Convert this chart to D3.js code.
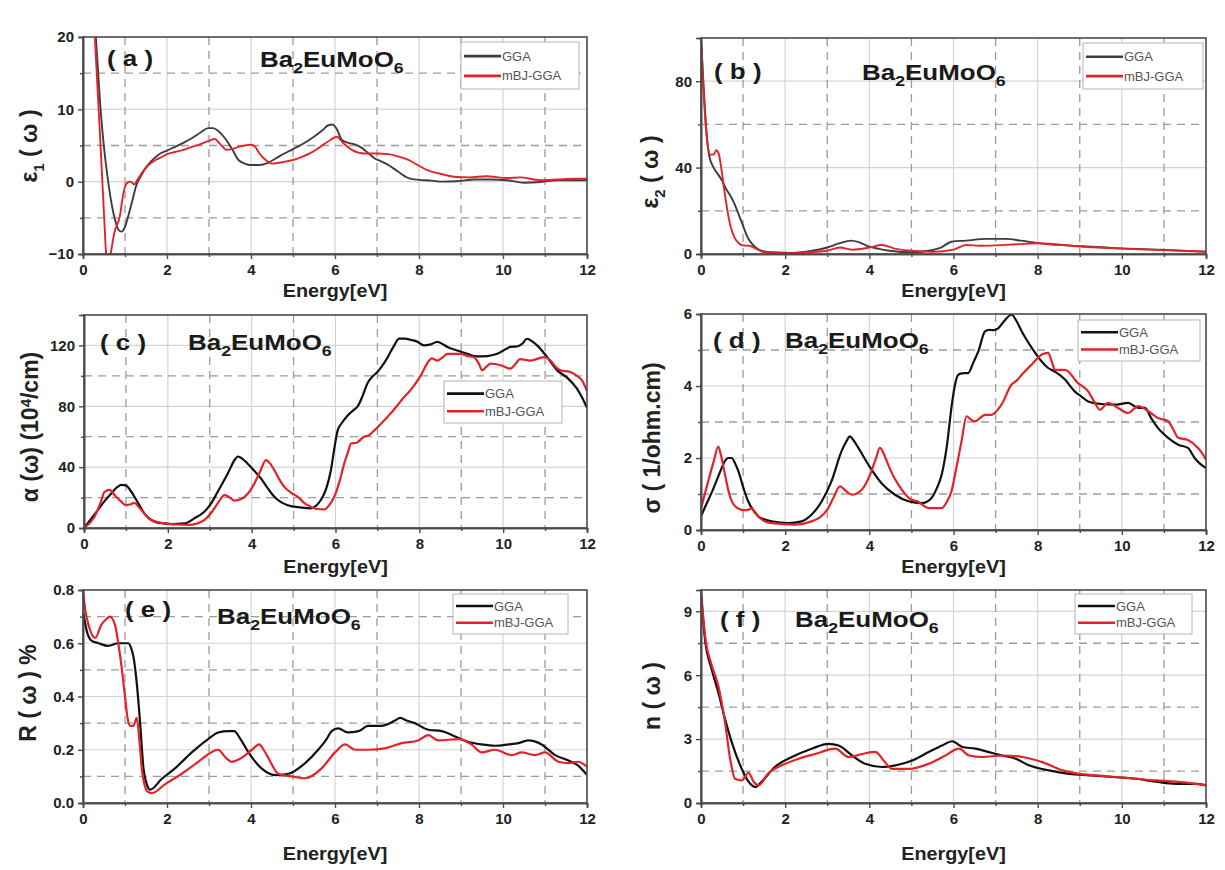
<!DOCTYPE html>
<html><head><meta charset="utf-8">
<script src="https://cdn.jsdelivr.net/npm/d3@7"></script>
<style>
body{margin:0;background:#fff}
svg text{font-family:Arial,"Liberation Sans",Helvetica,sans-serif}
</style></head><body>
<svg id="chart" width="1225" height="870"></svg>
<script>
// ---- shared axis values ----
const energyTicks = [0, 2, 4, 6, 8, 10, 12];
const energyMinor = [1, 3, 5, 7, 9, 11];
const seriesNames = ["GGA", "mBJ-GGA"];
const compound = ["Ba", "2", "EuMoO", "6"];

// ---- (a) real part of the dielectric function, [E (eV), value] ----
const eps1GGA = [[0.26,24],[0.34,17],[0.4,11.5],[0.47,6.5],[0.55,2.2],[0.65,-2],[0.75,-5],[0.85,-6.7],[0.92,-6.9],[0.98,-6.5],[1.08,-4.7],[1.18,-2.5],[1.27,-0.5],[1.38,0.8],[1.48,1.8],[1.62,2.8],[1.79,3.7],[2.0,4.3],[2.19,4.8],[2.4,5.4],[2.59,6.0],[2.8,6.8],[2.98,7.4],[3.1,7.4],[3.22,7.0],[3.38,6.0],[3.55,4.5],[3.7,3.0],[3.85,2.5],[4.0,2.3],[4.2,2.3],[4.4,2.6],[4.7,3.6],[5.0,4.5],[5.2,5.1],[5.5,6.2],[5.7,7.1],[5.84,7.8],[5.94,7.9],[6.04,7.3],[6.16,5.8],[6.3,5.4],[6.5,5.1],[6.63,4.7],[6.8,3.9],[6.95,3.2],[7.1,2.8],[7.27,2.3],[7.5,1.4],[7.75,0.5],[8.0,0.25],[8.3,0.15],[8.54,0.0],[8.9,0.05],[9.33,0.3],[9.7,0.3],[10.1,0.2],[10.5,-0.15],[10.9,-0.05],[11.3,0.2],[11.7,0.2],[12,0.2]];
const eps1MBJ = [[0.25,24],[0.3,18],[0.4,7],[0.5,-4.5],[0.55,-10],[0.6,-12.5],[0.66,-10],[0.75,-7],[0.88,-4.7],[0.95,-2],[1.0,-0.7],[1.08,-0.05],[1.14,0],[1.22,-0.4],[1.3,0.3],[1.4,1.2],[1.56,2.3],[1.7,2.9],[1.87,3.4],[2.0,3.8],[2.19,4.1],[2.4,4.4],[2.59,4.8],[2.8,5.2],[2.98,5.6],[3.14,5.9],[3.25,5.3],[3.42,4.4],[3.55,4.5],[3.7,4.8],[3.85,5.0],[4.0,5.1],[4.1,4.8],[4.2,3.9],[4.35,3.0],[4.5,2.5],[4.8,2.75],[5.0,3.0],[5.2,3.4],[5.4,3.9],[5.6,4.6],[5.9,5.8],[6.04,6.2],[6.2,5.3],[6.4,4.4],[6.7,3.9],[7.0,3.9],[7.27,3.8],[7.5,3.5],[7.75,3.0],[8.0,2.2],[8.2,1.6],[8.5,1.1],[8.9,0.65],[9.2,0.6],[9.6,0.75],[10.1,0.5],[10.4,0.6],[10.9,0.2],[11.3,0.3],[11.7,0.4],[12,0.4]];

// ---- (b) imaginary part of the dielectric function ----
const eps2GGA = [[0,100],[0.05,82],[0.1,65],[0.15,52],[0.2,45],[0.3,40],[0.4,37],[0.5,34],[0.6,30],[0.7,27],[0.8,23],[0.9,18],[1.0,13],[1.1,8],[1.2,5],[1.35,2.3],[1.5,1.2],[1.72,0.8],[2.18,0.5],[2.64,1.5],[3.0,3],[3.3,5],[3.56,6.2],[3.75,5.5],[3.93,3.9],[4.2,2.5],[4.48,1.5],[5.03,0.8],[5.4,1.5],[5.7,3],[5.95,5.7],[6.3,6.2],[6.78,7],[7.24,7],[7.6,6.2],[8.16,4.7],[9.08,3.6],[10,2.6],[10.9,2],[12,1.1]];
const eps2MBJ = [[0,100],[0.05,80],[0.1,63],[0.15,52],[0.22,46],[0.3,46],[0.36,48],[0.42,46.5],[0.48,40],[0.55,30],[0.62,21],[0.7,13],[0.8,7.5],[0.9,5],[1.0,4],[1.15,3.8],[1.3,2.5],[1.5,0.8],[2.0,0.3],[2.5,0.8],[3.0,1.5],[3.3,3.0],[3.6,2.0],[4.0,3.0],[4.3,4.2],[4.6,2.5],[5.0,1.5],[5.5,1.0],[6.0,2.0],[6.3,4.2],[6.6,3.8],[7.0,4.0],[7.5,4.5],[8.0,5.0],[9.0,3.5],[10,2.5],[11,1.8],[12,1.0]];

// ---- (c) absorption coefficient ----
const alphaGGA = [[0,0],[0.33,11.8],[0.5,18],[0.65,22.7],[0.8,27],[0.89,28.3],[1.0,28],[1.1,25],[1.25,18.4],[1.44,9.6],[1.55,6.5],[1.68,4.2],[1.9,3],[2.08,2.6],[2.4,3],[2.63,6.3],[2.87,10.7],[3.03,16],[3.19,23.8],[3.43,35.8],[3.6,45],[3.67,47],[3.78,45.5],[3.9,42.4],[4.05,38],[4.22,32.6],[4.4,25.5],[4.54,20.5],[4.7,17],[4.86,15],[5.17,13.5],[5.41,12.9],[5.55,15],[5.65,18.4],[5.78,26],[5.89,38],[5.97,52],[6.05,64],[6.15,69],[6.29,74],[6.45,78],[6.52,79.6],[6.65,87],[6.76,95],[6.9,100],[7.0,102.5],[7.1,106],[7.24,112],[7.38,119],[7.52,124.5],[7.65,124.5],[7.79,123.7],[7.95,122.5],[8.11,120],[8.25,120.5],[8.43,122.3],[8.55,121],[8.67,119],[8.9,116.7],[9.14,114.5],[9.38,112.8],[9.62,113],[9.8,114],[9.94,115.6],[10.17,119],[10.33,119.3],[10.45,121],[10.57,124.4],[10.7,122.5],[10.81,120],[11.05,112.3],[11.29,103.6],[11.52,99],[11.76,91.6],[11.88,86],[12,79]];
const alphaMBJ = [[0,0],[0.25,7.4],[0.4,17],[0.49,23.8],[0.61,25],[0.75,21],[0.89,17.3],[1.0,15],[1.1,15.5],[1.21,16.5],[1.3,14],[1.37,11.8],[1.5,7.5],[1.6,5.2],[1.92,3],[2.2,2.3],[2.48,2],[2.7,3],[2.87,5.2],[3.05,10.5],[3.19,16.2],[3.35,21.6],[3.45,20.5],[3.59,18],[3.75,19],[3.83,20.5],[3.95,24],[4.06,29],[4.2,37],[4.34,44.6],[4.42,43],[4.54,38],[4.66,32],[4.78,27],[4.95,23],[5.1,20.5],[5.25,16.5],[5.41,14],[5.55,12.5],[5.73,12.2],[5.85,15],[5.97,20.5],[6.1,31],[6.21,42.6],[6.3,50],[6.37,55.5],[6.5,56],[6.68,60],[6.8,61],[6.92,64],[7.1,69],[7.24,73],[7.48,80.7],[7.6,85],[7.79,90.6],[8.03,100],[8.23,110],[8.3,111.5],[8.43,110],[8.55,112],[8.67,114.5],[8.98,114.5],[9.15,113],[9.3,112.3],[9.42,108],[9.5,103.6],[9.6,106],[9.7,108],[9.94,107],[10.17,104.7],[10.3,108],[10.4,111],[10.65,110],[10.97,112.3],[11.13,110],[11.25,106],[11.37,103.6],[11.6,102.5],[11.76,100],[11.88,97],[12,90]];

// ---- (d) optical conductivity ----
const sigmaGGA = [[0,0.38],[0.12,0.7],[0.25,1.03],[0.38,1.4],[0.49,1.72],[0.57,1.92],[0.65,2.0],[0.73,2.0],[0.81,1.85],[0.89,1.63],[1.0,1.2],[1.12,0.8],[1.24,0.55],[1.36,0.38],[1.5,0.3],[1.68,0.24],[2.07,0.19],[2.39,0.24],[2.63,0.43],[2.87,0.8],[3.1,1.35],[3.34,2.19],[3.45,2.45],[3.54,2.6],[3.62,2.5],[3.74,2.28],[3.98,1.81],[4.29,1.3],[4.61,0.98],[4.93,0.8],[5.24,0.75],[5.36,0.78],[5.48,0.89],[5.6,1.15],[5.72,1.54],[5.85,2.4],[5.95,3.39],[6.03,4.0],[6.11,4.31],[6.2,4.35],[6.35,4.36],[6.47,4.65],[6.59,4.96],[6.75,5.52],[6.85,5.56],[6.95,5.55],[7.06,5.6],[7.2,5.8],[7.38,5.98],[7.5,5.8],[7.62,5.52],[7.86,5.06],[8.09,4.69],[8.25,4.5],[8.41,4.4],[8.65,4.18],[8.88,3.85],[9.05,3.7],[9.2,3.57],[9.5,3.5],[9.83,3.48],[10.15,3.53],[10.39,3.39],[10.55,3.39],[10.7,3.1],[10.86,2.83],[11.1,2.56],[11.34,2.37],[11.57,2.28],[11.73,2.0],[11.85,1.85],[12,1.72]];
const sigmaMBJ = [[0,0.6],[0.17,1.35],[0.3,1.9],[0.41,2.32],[0.48,2.05],[0.57,1.54],[0.65,1.1],[0.73,0.8],[0.85,0.62],[0.97,0.56],[1.1,0.55],[1.2,0.6],[1.28,0.5],[1.36,0.38],[1.5,0.25],[1.68,0.19],[2.23,0.15],[2.63,0.24],[3.02,0.6],[3.15,0.9],[3.3,1.21],[3.45,1.08],[3.58,0.98],[3.82,1.12],[4.05,1.63],[4.16,2.0],[4.25,2.28],[4.35,2.1],[4.45,1.81],[4.57,1.5],[4.69,1.26],[4.85,1.0],[5.0,0.84],[5.15,0.8],[5.24,0.72],[5.4,0.61],[5.72,0.61],[5.85,0.8],[5.95,1.07],[6.08,1.8],[6.19,2.46],[6.31,3.16],[6.4,3.08],[6.51,3.02],[6.75,3.2],[6.9,3.2],[7.14,3.48],[7.38,4.04],[7.5,4.15],[7.62,4.31],[7.86,4.6],[8.09,4.87],[8.25,4.92],[8.33,4.7],[8.41,4.45],[8.65,4.45],[8.96,4.08],[9.2,3.85],[9.35,3.55],[9.48,3.34],[9.67,3.53],[9.91,3.39],[10.15,3.25],[10.39,3.44],[10.63,3.3],[10.86,3.11],[11.1,3.02],[11.22,2.8],[11.34,2.56],[11.57,2.5],[11.81,2.28],[11.9,2.15],[12,1.95]];

// ---- (e) reflectivity ----
const reflGGA = [[0,0.72],[0.1,0.64],[0.2,0.61],[0.37,0.6],[0.6,0.59],[0.84,0.6],[1.08,0.6],[1.15,0.58],[1.2,0.55],[1.28,0.45],[1.36,0.3],[1.44,0.13],[1.52,0.07],[1.6,0.05],[1.87,0.09],[2.19,0.13],[2.59,0.19],[2.98,0.24],[3.22,0.265],[3.46,0.27],[3.6,0.27],[3.75,0.24],[3.94,0.19],[4.25,0.13],[4.57,0.105],[4.89,0.11],[5.29,0.15],[5.6,0.2],[5.8,0.24],[5.92,0.27],[6.08,0.28],[6.3,0.265],[6.56,0.27],[6.79,0.29],[7.1,0.29],[7.43,0.31],[7.55,0.32],[7.7,0.31],[7.9,0.3],[8.22,0.275],[8.54,0.27],[8.86,0.25],[9.17,0.23],[9.49,0.22],[9.81,0.215],[10.13,0.22],[10.37,0.225],[10.6,0.235],[10.92,0.22],[11.24,0.18],[11.56,0.16],[11.79,0.14],[12,0.105]];
const reflMBJ = [[0,0.8],[0.06,0.72],[0.13,0.67],[0.29,0.62],[0.44,0.67],[0.55,0.69],[0.64,0.7],[0.76,0.67],[0.84,0.6],[0.92,0.51],[1.0,0.4],[1.06,0.32],[1.12,0.29],[1.2,0.29],[1.28,0.32],[1.34,0.24],[1.4,0.13],[1.48,0.06],[1.56,0.04],[1.64,0.037],[1.95,0.07],[2.35,0.11],[2.75,0.155],[3.0,0.185],[3.22,0.2],[3.4,0.17],[3.54,0.155],[3.78,0.17],[4.02,0.2],[4.2,0.22],[4.3,0.2],[4.41,0.17],[4.65,0.11],[4.97,0.1],[5.29,0.093],[5.68,0.13],[6.0,0.19],[6.24,0.22],[6.48,0.2],[6.79,0.2],[7.18,0.205],[7.59,0.225],[7.98,0.235],[8.22,0.255],[8.46,0.235],[8.94,0.24],[9.25,0.22],[9.49,0.19],[9.81,0.2],[10.21,0.18],[10.44,0.19],[10.76,0.18],[11.0,0.19],[11.32,0.155],[11.56,0.15],[11.79,0.155],[12,0.136]];

// ---- (f) refractive index ----
const nGGA = [[0,9.8],[0.1,7.6],[0.25,6.3],[0.41,5.2],[0.57,3.95],[0.73,2.86],[0.97,1.6],[1.17,0.9],[1.29,0.75],[1.44,1.0],[1.76,1.7],[2.16,2.16],[2.63,2.55],[3.03,2.78],[3.27,2.7],[3.59,2.23],[3.9,1.84],[4.3,1.69],[4.62,1.77],[5.02,2.0],[5.41,2.39],[5.73,2.7],[5.97,2.9],[6.21,2.63],[6.52,2.55],[6.84,2.39],[7.16,2.23],[7.48,2.08],[7.79,1.77],[8.27,1.53],[8.75,1.37],[9.22,1.3],[9.78,1.22],[10.33,1.14],[10.81,1.0],[11.29,0.9],[11.76,0.9],[12,0.83]];
const nMBJ = [[0,10],[0.1,7.8],[0.25,6.5],[0.41,5.5],[0.57,3.8],[0.69,2.1],[0.81,1.14],[0.97,1.06],[1.13,1.42],[1.25,1.0],[1.37,0.83],[1.6,1.4],[1.92,1.77],[2.32,2.08],[2.71,2.3],[3.19,2.55],[3.51,2.16],[3.83,2.3],[4.14,2.4],[4.34,2.0],[4.54,1.6],[4.94,1.6],[5.41,1.84],[5.81,2.23],[6.13,2.55],[6.37,2.23],[6.68,2.16],[7.16,2.23],[7.63,2.16],[8.11,1.92],[8.59,1.53],[8.98,1.37],[9.38,1.3],[9.86,1.22],[10.33,1.14],[10.81,1.06],[11.29,1.0],[11.76,0.9],[12,0.83]];

// ---- per-panel y axes ----
const eps1Ticks = [-10, 0, 10, 20], eps1Minor = [-5, 5, 15];
const eps2Ticks = [0, 40, 80], eps2Minor = [20, 60];
const alphaTicks = [0, 40, 80, 120], alphaMinor = [20, 60, 100];
const sigmaTicks = [0, 2, 4, 6], sigmaMinor = [1, 3, 5];
const reflTicks = [0, 0.2, 0.4, 0.6, 0.8], reflMinor = [0.1, 0.3, 0.5, 0.7];
const nTicks = [0, 3, 6, 9], nMinor = [1.5, 4.5, 7.5];

const RED = "#e2232a";
const FONT = 'Arial, "Liberation Sans", Helvetica, sans-serif';

const panels = [
  { tag: "a", gga: eps1GGA, mbj: eps1MBJ, yDomain: [-10, 20], yTicks: eps1Ticks, yMinor: eps1Minor, fmt: d3.format("d"),
    box: { x0: 83, x1: 587, y0: 37, y1: 254 }, ggaColor: "#3d3d3d", lw: 1.9,
    ylab: { x: 37, y: 146, parts: [["ε", 0], ["1", 1], [" ( ω )", 0]] },
    tagPos: [107, 66], namePos: [260, 67], legend: [461, 42, 118, 47], xlabY: 297 },
  { tag: "b", gga: eps2GGA, mbj: eps2MBJ, yDomain: [0, 100], yTicks: eps2Ticks, yMinor: eps2Minor, fmt: d3.format("d"),
    box: { x0: 701, x1: 1206, y0: 38, y1: 254 }, ggaColor: "#3d3d3d", lw: 1.9,
    ylab: { x: 658, y: 172, parts: [["ε", 0], ["2", 1], [" ( ω )", 0]] },
    tagPos: [714, 79], namePos: [862, 80], legend: [1083, 43, 120, 46], xlabY: 297 },
  { tag: "c", gga: alphaGGA, mbj: alphaMBJ, yDomain: [0, 140], yTicks: alphaTicks, yMinor: alphaMinor, fmt: d3.format("d"),
    box: { x0: 84, x1: 587, y0: 315, y1: 528 }, ggaColor: "#111", lw: 2.2,
    ylab: { x: 38, y: 427, parts: [["α (ω) (10", 0], ["4", -1], ["/cm)", 0]] },
    tagPos: [100, 350], namePos: [188, 350], legend: [444, 381, 118, 42], xlabY: 573 },
  { tag: "d", gga: sigmaGGA, mbj: sigmaMBJ, yDomain: [0, 6], yTicks: sigmaTicks, yMinor: sigmaMinor, fmt: d3.format("d"),
    box: { x0: 701, x1: 1206, y0: 314, y1: 530 }, ggaColor: "#111", lw: 2.2,
    ylab: { x: 660, y: 438, parts: [["σ ( 1/ohm.cm)", 0]] },
    tagPos: [713, 348], namePos: [785, 348], legend: [1078, 320, 122, 41], xlabY: 573 },
  { tag: "e", gga: reflGGA, mbj: reflMBJ, yDomain: [0, 0.8], yTicks: reflTicks, yMinor: reflMinor, fmt: d3.format(".1f"),
    box: { x0: 83, x1: 587, y0: 590, y1: 803 }, ggaColor: "#111", lw: 2.2,
    ylab: { x: 36, y: 693, parts: [["R ( ω ) %", 0]] },
    tagPos: [125, 617], namePos: [217, 624], legend: [453, 594, 115, 40], xlabY: 860 },
  { tag: "f", gga: nGGA, mbj: nMBJ, yDomain: [0, 10], yTicks: nTicks, yMinor: nMinor, fmt: d3.format("d"),
    box: { x0: 701, x1: 1206, y0: 590, y1: 803 }, ggaColor: "#111", lw: 2.2,
    ylab: { x: 660, y: 696, parts: [["n ( ω )", 0]] },
    tagPos: [720, 627], namePos: [795, 627], legend: [1075, 594, 117, 40], xlabY: 860 }
];

const svg = d3.select("#chart");

panels.forEach((p, i) => {
  const { x0, x1, y0, y1 } = p.box;
  const x = d3.scaleLinear().domain([0, 12]).range([x0, x1]);
  const y = d3.scaleLinear().domain(p.yDomain).range([y1, y0]);
  const g = svg.append("g").attr("class", "panel-" + p.tag);

  // grid: light solid lines on the labelled ticks, dashed lines half way between
  const inner = v => v > p.yDomain[0] && v < p.yDomain[1];
  g.append("g").selectAll("line").data(energyTicks.slice(1, -1)).join("line")
    .attr("x1", d => x(d)).attr("x2", d => x(d)).attr("y1", y0).attr("y2", y1)
    .attr("stroke", "#d4d4d4").attr("stroke-width", 1.2);
  g.append("g").selectAll("line").data(p.yTicks.filter(inner)).join("line")
    .attr("x1", x0).attr("x2", x1).attr("y1", d => y(d)).attr("y2", d => y(d))
    .attr("stroke", "#d4d4d4").attr("stroke-width", 1.2);
  g.append("g").selectAll("line").data(energyMinor).join("line")
    .attr("x1", d => x(d)).attr("x2", d => x(d)).attr("y1", y0).attr("y2", y1)
    .attr("stroke", "#9c9c9c").attr("stroke-width", 1.3).attr("stroke-dasharray", "8,6");
  g.append("g").selectAll("line").data(p.yMinor).join("line")
    .attr("x1", x0).attr("x2", x1).attr("y1", d => y(d)).attr("y2", d => y(d))
    .attr("stroke", "#9c9c9c").attr("stroke-width", 1.3).attr("stroke-dasharray", "8,6");

  // curves, clipped to the frame
  const clipId = "clip-" + p.tag;
  svg.append("defs").append("clipPath").attr("id", clipId)
    .append("rect").attr("x", x0).attr("y", y0).attr("width", x1 - x0).attr("height", y1 - y0);
  const line = d3.line().x(d => x(d[0])).y(d => y(d[1])).curve(d3.curveMonotoneX);
  const plot = g.append("g").attr("clip-path", `url(#${clipId})`);
  plot.append("path").datum(p.gga).attr("d", line).attr("fill", "none")
    .attr("stroke", p.ggaColor).attr("stroke-width", p.lw).attr("stroke-linejoin", "round");
  plot.append("path").datum(p.mbj).attr("d", line).attr("fill", "none")
    .attr("stroke", RED).attr("stroke-width", p.lw).attr("stroke-linejoin", "round");

  // frame
  g.append("rect").attr("x", x0).attr("y", y0).attr("width", x1 - x0).attr("height", y1 - y0)
    .attr("fill", "none").attr("stroke", "#4a4a4a").attr("stroke-width", 1.6);

  // axes
  const xAxis = g.append("g").attr("transform", `translate(0,${y1})`)
    .call(d3.axisBottom(x).tickValues(energyTicks).tickFormat(d3.format("d")).tickSize(5).tickPadding(5));
  g.append("g").attr("transform", `translate(0,${y1})`)
    .call(d3.axisBottom(x).tickValues(energyMinor).tickFormat("").tickSize(3));
  const yAxis = g.append("g").attr("transform", `translate(${x0},0)`)
    .call(d3.axisLeft(y).tickValues(p.yTicks).tickFormat(p.fmt).tickSize(5).tickPadding(4));
  g.append("g").attr("transform", `translate(${x0},0)`)
    .call(d3.axisLeft(y).tickValues(p.yMinor).tickFormat("").tickSize(3));
  g.selectAll(".domain").attr("stroke", "#4a4a4a").attr("stroke-width", 1.6);
  g.selectAll(".tick line").attr("stroke", "#4a4a4a").attr("stroke-width", 1.4);
  g.selectAll(".tick text").attr("font-size", 15).attr("font-weight", "bold")
    .attr("fill", "#222").attr("font-family", FONT);

  // x axis title
  g.append("text").attr("transform", `translate(${(x0 + x1) / 2},${p.xlabY}) scale(1.1,1)`)
    .attr("text-anchor", "middle").attr("font-size", 18).attr("font-weight", "bold")
    .attr("fill", "#222").text("Energy[eV]");

  // y axis title (rotated), with sub/superscripts
  const yl = g.append("text").attr("transform", `translate(${p.ylab.x},${p.ylab.y}) rotate(-90)`)
    .attr("text-anchor", "middle").attr("font-size", 23).attr("font-weight", "bold").attr("fill", "#222");
  let shift = 0;
  p.ylab.parts.forEach(([txt, s]) => {
    const target = s * 7;
    const ts = yl.append("tspan").text(txt).attr("dy", target - shift);
    if (s !== 0) ts.attr("font-size", 15);
    shift = target;
  });

  // panel tag and compound name
  g.append("text").attr("transform", `translate(${p.tagPos[0]},${p.tagPos[1]}) scale(1.18,1)`)
    .attr("font-size", 22).attr("font-weight", "bold").attr("fill", "#1a1a1a")
    .attr("xml:space", "preserve").text(`( ${p.tag} )`);
  const nm = g.append("text").attr("transform", `translate(${p.namePos[0]},${p.namePos[1]}) scale(1.18,1)`)
    .attr("font-size", 22).attr("font-weight", "bold").attr("fill", "#1a1a1a");
  nm.append("tspan").text(compound[0]);
  nm.append("tspan").attr("dy", 6).attr("font-size", 15).text(compound[1]);
  nm.append("tspan").attr("dy", -6).text(compound[2]);
  nm.append("tspan").attr("dy", 6).attr("font-size", 15).text(compound[3]);

  // legend
  const [lx, ly, lw, lh] = p.legend;
  const lg = g.append("g");
  lg.append("rect").attr("x", lx).attr("y", ly).attr("width", lw).attr("height", lh)
    .attr("fill", "#fff").attr("stroke", "#b4b4b4").attr("stroke-width", 1);
  const rowY = [ly + lh * 0.3, ly + lh * 0.72];
  [p.ggaColor, RED].forEach((c, k) => {
    lg.append("line").attr("x1", lx + 3).attr("x2", lx + 40).attr("y1", rowY[k]).attr("y2", rowY[k])
      .attr("stroke", c).attr("stroke-width", 2.6);
    lg.append("text").attr("x", lx + 41).attr("y", rowY[k] + 4.5).attr("font-size", 13)
      .attr("fill", "#555").text(seriesNames[k]);
  });
});
</script>
</body></html>
